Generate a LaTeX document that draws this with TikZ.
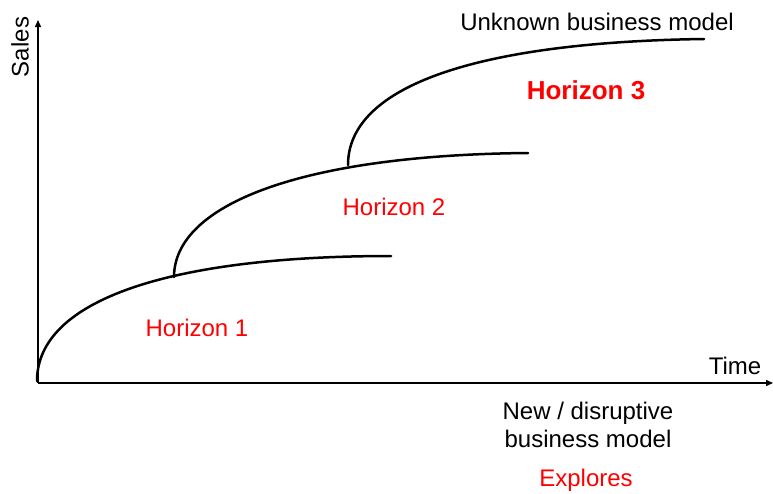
\documentclass[tikz,border=0pt]{standalone}
\usepackage{fontspec}
\setmainfont{Liberation Sans}
\usetikzlibrary{arrows.meta}
\begin{document}
\begin{tikzpicture}[x=1pt,y=-1pt,
  curve/.style={line width=2.5pt,line cap=round},
  axis/.style={line width=1.4pt,-{Triangle[length=7pt,width=6pt]}},
  lbl/.style={inner sep=0pt,font=\fontsize{24}{28}\selectfont},
  redlbl/.style={lbl,text=red}]
\useasboundingbox (0,0) rectangle (773,493);
% axes
\coordinate (O) at (38,383);
\coordinate (Ytop) at (38,20);
\coordinate (Xend) at (773,383);
\draw[axis] (O) -- (Ytop);
\draw[axis] (O) -- (Xend);
% curves
\coordinate (c1s) at (37,381);
\coordinate (c1e) at (391,256);
\coordinate (b1) at (174,277);
\coordinate (c2e) at (528,153);
\coordinate (b2) at (348,165);
\coordinate (c3e) at (704,39);
\draw[curve] (c1s) .. controls (37,300) and (170,256) .. (c1e);
\draw[curve] (b1) .. controls (174,205) and (300,155) .. (c2e);
\draw[curve] (b2) .. controls (348,85) and (480,42) .. (c3e);
% labels
\node[lbl,rotate=90] (sales) at (20,47) {Sales};
\node[lbl] (time) at (735,366) {Time};
\node[lbl] (unk) at (597,22) {Unknown business model};
\node[redlbl,font=\fontsize{26}{30}\selectfont\bfseries] (h3) at (586,90) {Horizon 3};
\node[redlbl] (h2) at (394,207) {Horizon 2};
\node[redlbl] (h1) at (197,328) {Horizon 1};
\node[lbl,align=center,font=\fontsize{24}{28}\selectfont] (new) at (588,425) {New / disruptive\\business model};
\node[redlbl] (exp) at (586,480) {Explores};
\end{tikzpicture}
\end{document}
